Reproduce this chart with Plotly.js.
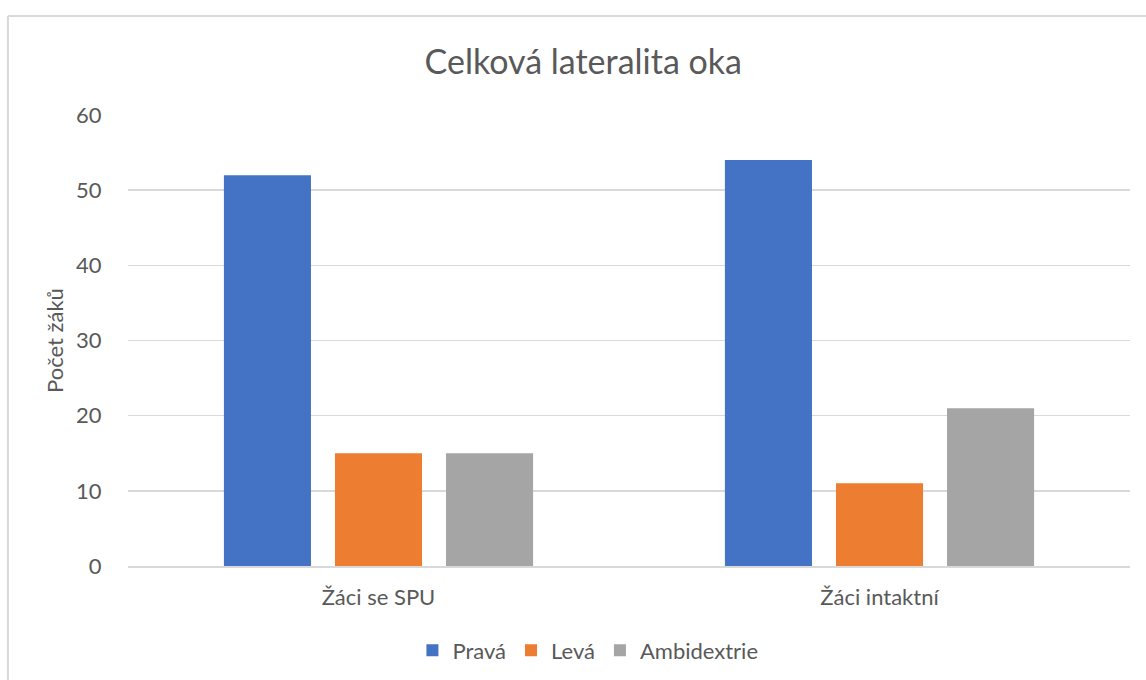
<!DOCTYPE html>
<html><head><meta charset="utf-8">
<script src="https://cdn.plot.ly/plotly-3.0.1.min.js"></script>
<style>html,body{margin:0;padding:0;background:#fff;}#chart{width:1146px;height:680px;}</style>
</head><body><div id="chart"></div>
<script>
const categories = ["Žáci se SPU", "Žáci intaktní"];
const seriesNames = ["Pravá", "Levá", "Ambidextrie"];
const prava = [52, 54];
const leva = [15, 11];
const ambidextrie = [15, 21];
const colors = ["#4472C4", "#ED7D31", "#A5A5A5"];
const yTicks = [0, 10, 20, 30, 40, 50, 60];

const font = "Lato, 'Open Sans', sans-serif";
const traces = [prava, leva, ambidextrie].map((vals, i) => ({
  type: "bar", name: seriesNames[i], x: categories, y: vals,
  marker: {color: colors[i]}, hoverinfo: "none"
}));

const layout = {
  width: 1146, height: 680,
  margin: {l: 128, r: 16, t: 115, b: 114, autoexpand: false},
  paper_bgcolor: "#fff", plot_bgcolor: "#fff",
  barmode: "group", bargap: 0.335, bargroupgap: 0.216,
  title: {text: "Celková lateralita oka", font: {family: font, size: 34, color: "#595959"},
          x: 0.509, xanchor: "center", y: 0.909, yanchor: "middle"},
  xaxis: {
    tickfont: {family: font, size: 22, color: "#595959"},
    showgrid: false, showline: true, linecolor: "#d9d9d9", linewidth: 1.5,
    ticks: "outside", ticklen: 11, tickcolor: "rgba(0,0,0,0)", fixedrange: true, automargin: false
  },
  yaxis: {
    range: [0, 60], tickvals: yTicks, ticktext: yTicks.map(String),
    tickfont: {family: font, size: 22, color: "#595959"},
    gridcolor: "#d9d9d9", gridwidth: 1.5, zeroline: false, showline: false,
    ticks: "outside", ticklen: 21, tickcolor: "rgba(0,0,0,0)",
    title: {text: "Počet žáků", font: {family: font, size: 22, color: "#595959"}, standoff: 6},
    fixedrange: true, automargin: false
  },
  legend: {
    orientation: "h", x: 0.459, xanchor: "center", y: -0.187, yanchor: "middle",
    font: {family: font, size: 22, color: "#595959"}, itemwidth: 30, traceorder: "normal"
  },
  showlegend: true,
  shapes: [
    {type: "line", xref: "paper", yref: "paper", x0: -0.1198, x1: -0.1198, y0: -0.6, y1: 1.2195,
     line: {color: "#d9d9d9", width: 2}},
    {type: "line", xref: "paper", yref: "paper", x0: -0.1198, x1: 1.03, y0: 1.2195, y1: 1.2195,
     line: {color: "#d9d9d9", width: 2}}
  ]
};
Plotly.newPlot("chart", traces, layout, {staticPlot: true});
</script></body></html>
